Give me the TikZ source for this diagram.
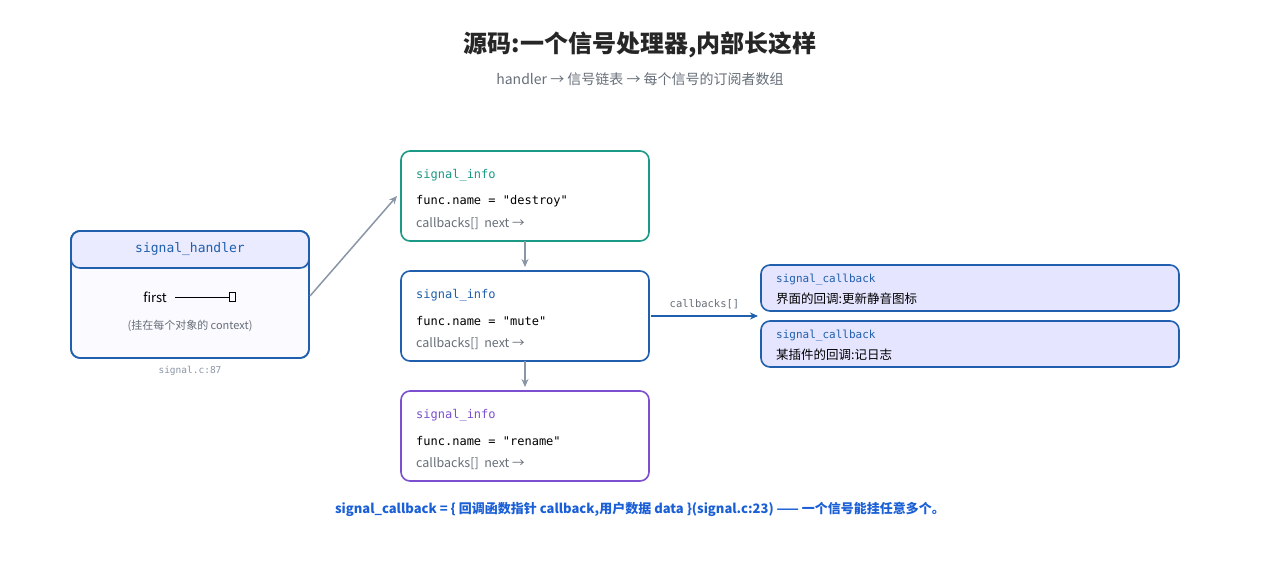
\documentclass[tikz,border=0pt]{standalone}
\usepackage{fontspec}
\setmainfont{Noto Sans CJK SC}
\setmonofont{DejaVu Sans Mono}
\usetikzlibrary{arrows.meta}
\definecolor{bl}{HTML}{1F5FAD}
\definecolor{te}{HTML}{1A9A86}
\definecolor{pu}{HTML}{7B4FD0}
\definecolor{gr}{HTML}{8A95A5}
\definecolor{tx}{HTML}{666E78}
\definecolor{fb}{HTML}{1A5FD6}
\tikzset{
 box/.style={draw, line width=1.6pt, rounded corners=9pt, fill=white},
 mono/.style={font=\ttfamily\fontsize{12}{14}\selectfont, anchor=west, inner sep=0},
 plain/.style={font=\fontsize{12.5}{14}\selectfont, anchor=west, inner sep=0},
 garr/.style={draw=gr, line width=1.5pt, -{Stealth[length=8pt,width=7pt]}},
}
\begin{document}
\begin{tikzpicture}[x=1pt,y=-1pt]
\useasboundingbox (0,0) rectangle (1280,560);
\node[font=\bfseries\fontsize{24}{28}\selectfont, text=black!85] (title) at (640,45) {源码:一个信号处理器,内部长这样};
\node[font=\fontsize{14}{16}\selectfont, text=tx] (sub) at (640,79) {handler → 信号链表 → 每个信号的订阅者数组};
% handler
\draw[box, draw=bl, fill=blue!2] (71,231) rectangle (309,358);
\begin{scope}
\clip[rounded corners=9pt] (71,231) rectangle (309,358);
\fill[blue!8] (71,231) rectangle (309,268);
\end{scope}
\draw[line width=1.6pt, draw=bl, rounded corners=9pt] (71,231) rectangle (309,268);
\draw[line width=1.6pt, draw=bl, rounded corners=9pt] (71,231) rectangle (309,358);
\node[font=\ttfamily\fontsize{13}{15}\selectfont, text=bl] (hname) at (190,249) {signal\_handler};
\node[font=\fontsize{13}{15}\selectfont] (first) at (155,297) {first};
\node[draw, line width=0.9pt, minimum width=6pt, minimum height=9pt, inner sep=0] (ptr) at (232.5,297) {};
\draw[line width=0.9pt] (175,297) -- (ptr.west);
\node[font=\fontsize{11}{13}\selectfont, text=tx] (ctx) at (190,326) {(挂在每个对象的 context)};
\node[font=\ttfamily\fontsize{9.5}{11}\selectfont, text=gr] (src) at (190,371) {signal.c:87};
% infos
\foreach \n/\y/\c/\nm in {i1/151/te/destroy, i2/271/bl/mute, i3/391/pu/rename}{
 \draw[box, draw=\c] (401,\y) rectangle (649,\y+90);
 \coordinate (\n) at (525,\y);
 \node[mono, text=\c] at (416,\y+24) {signal\_info};
 \node[mono] at (416,\y+50) {func.name = "\nm"};
 \node[plain, text=tx] at (416,\y+73) {callbacks[]\ \ next →};
}
\coordinate (i1b) at (525,241);
\coordinate (i2b) at (525,361);
\coordinate (i2t) at (525,267);
\coordinate (i3t) at (525,387);
\draw[garr] (i1b) -- (i2t);
\draw[garr] (i2b) -- (i3t);
\coordinate (hout) at (310,296);
\coordinate (i1in) at (397,196);
\draw[garr] (hout) -- (i1in);
% callbacks
\foreach \n/\y/\t in {c1/265/界面的回调:更新静音图标, c2/321/某插件的回调:记日志}{
 \draw[box, draw=bl, fill=blue!10] (761,\y) rectangle (1179,\y+46);
 \node[font=\ttfamily\fontsize{11}{13}\selectfont, anchor=west, inner sep=0, text=bl] at (776,\y+15) {signal\_callback};
 \node[plain] at (776,\y+34) {\t};
}
\coordinate (cbs) at (651,316);
\coordinate (cbe) at (758,316);
\draw[draw=bl, line width=1.6pt, -{Stealth[length=8pt,width=7pt]}] (cbs) -- node[above=3pt, font=\ttfamily\fontsize{10.5}{12}\selectfont, text=tx] {callbacks[]} (cbe);
\node[font=\bfseries\fontsize{13}{15}\selectfont, text=fb] (foot) at (640,509) {signal\_callback = \{ 回调函数指针 callback,用户数据 data \}(signal.c:23) —— 一个信号能挂任意多个。};
\end{tikzpicture}
\end{document}
